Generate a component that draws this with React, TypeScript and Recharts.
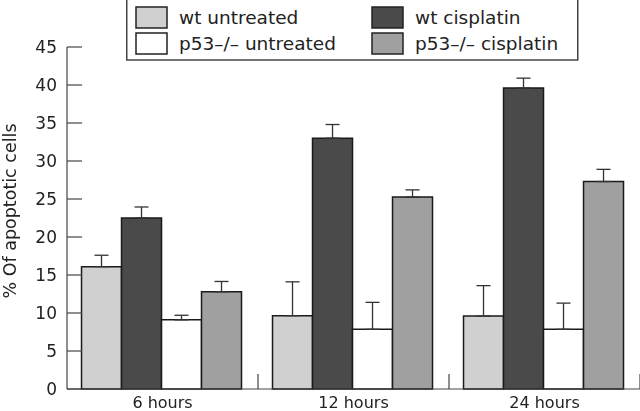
import React from "react";
import { BarChart, Bar, XAxis, YAxis, ErrorBar } from "recharts";

const categories = ["6 hours", "12 hours", "24 hours"];
const wtUntreated = [16.1, 9.65, 9.6];
const wtUntreatedErr = [1.5, 4.45, 4.0];
const wtCisplatin = [22.5, 33.0, 39.6];
const wtCisplatinErr = [1.45, 1.8, 1.3];
const p53Untreated = [9.1, 7.85, 7.85];
const p53UntreatedErr = [0.6, 3.55, 3.45];
const p53Cisplatin = [12.8, 25.25, 27.3];
const p53CisplatinErr = [1.35, 0.95, 1.6];
const yTicks = [0, 5, 10, 15, 20, 25, 30, 35, 40, 45];

const series = [
  { key: "wtU", name: "wt untreated", fill: "#d0d0d0" },
  { key: "wtC", name: "wt cisplatin", fill: "#4a4a4a" },
  { key: "p53U", name: "p53\u2013/\u2013 untreated", fill: "#ffffff" },
  { key: "p53C", name: "p53\u2013/\u2013 cisplatin", fill: "#a0a0a0" },
];

const data = categories.map((c, i) => ({
  name: c,
  wtU: wtUntreated[i],
  wtUErr: [0, wtUntreatedErr[i]],
  wtC: wtCisplatin[i],
  wtCErr: [0, wtCisplatinErr[i]],
  p53U: p53Untreated[i],
  p53UErr: [0, p53UntreatedErr[i]],
  p53C: p53Cisplatin[i],
  p53CErr: [0, p53CisplatinErr[i]],
}));

const W = 640;
const H = 411;
const LEFT = 67;
const FONT = "'DejaVu Sans', sans-serif";
const TEXT = "#222";
const AXIS = "#444";
const bandWidth = (W - LEFT) / categories.length;

function YTick({ x, y, payload }: any) {
  return (
    <g>
      <line x1={x} x2={x + 15} y1={y} y2={y} stroke={AXIS} strokeWidth={1.2} />
      <text x={x - 10} y={y} dy={6} textAnchor="end" fontSize={17} fill={TEXT} fontFamily={FONT}>
        {payload.value}
      </text>
    </g>
  );
}

function XTick({ x, y, payload }: any) {
  const sep = x + bandWidth / 2;
  return (
    <g>
      <line x1={sep} x2={sep} y1={y} y2={y - 15} stroke={AXIS} strokeWidth={1.2} />
      <text x={x} y={y} dy={19} textAnchor="middle" fontSize={16} fill={TEXT} fontFamily={FONT}>
        {payload.value}
      </text>
    </g>
  );
}

// legend drawn as its own box, laid over the top of the chart
function LegendBox() {
  const cols = [series[0], series[2], series[1], series[3]];
  return (
    <svg width={453} height={62} style={{ display: "block" }}>
      <rect x={0.75} y={-2} width={451} height={62} fill="#fff" stroke={AXIS} strokeWidth={1.5} />
      {cols.map((s, i) => {
        const cx = i < 2 ? 10 : 246;
        const cy = i % 2 === 0 ? 7 : 33;
        return (
          <g key={s.key}>
            <rect x={cx} y={cy} width={31} height={21} fill={s.fill} stroke="#222" strokeWidth={1.5} />
            <text x={cx + 43} y={cy + 17} fontSize={18.5} fill={TEXT} fontFamily={FONT}>
              {s.name}
            </text>
          </g>
        );
      })}
    </svg>
  );
}

export default function App() {
  return (
    <div style={{ position: "fixed", left: 0, top: 0, width: W, height: H }}>
      <BarChart
        width={W}
        height={H}
        data={data}
        margin={{ top: 47, right: 0, bottom: 0, left: 0 }}
        barCategoryGap="7.6%"
        barGap={0}
      >
        <XAxis
          dataKey="name"
          tick={<XTick />}
          tickLine={false}
          tickSize={0}
          tickMargin={0}
          height={22}
          axisLine={{ stroke: AXIS, strokeWidth: 1.2 }}
          interval={0}
        />
        <YAxis
          domain={[0, 45]}
          ticks={yTicks}
          tick={<YTick />}
          tickLine={false}
          tickSize={0}
          tickMargin={0}
          width={LEFT}
          axisLine={{ stroke: AXIS, strokeWidth: 1.2 }}
          label={{
            content: () => (
              <text
                x={11}
                y={211}
                transform="rotate(-90 11 211)"
                textAnchor="middle"
                dominantBaseline="middle"
                fontSize={17.5}
                fill={TEXT}
                fontFamily={FONT}
              >
                % Of apoptotic cells
              </text>
            ),
          }}
        />
        {series.map((s) => (
          <Bar
            key={s.key}
            dataKey={s.key}
            name={s.name}
            fill={s.fill}
            stroke="#1a1a1a"
            strokeWidth={1.5}
            isAnimationActive={false}
          >
            <ErrorBar dataKey={s.key + "Err"} width={7} stroke="#333" strokeWidth={1.3} direction="y" />
          </Bar>
        ))}
      </BarChart>
      <div style={{ position: "absolute", top: 0, left: 126 }}>
        <LegendBox />
      </div>
    </div>
  );
}
